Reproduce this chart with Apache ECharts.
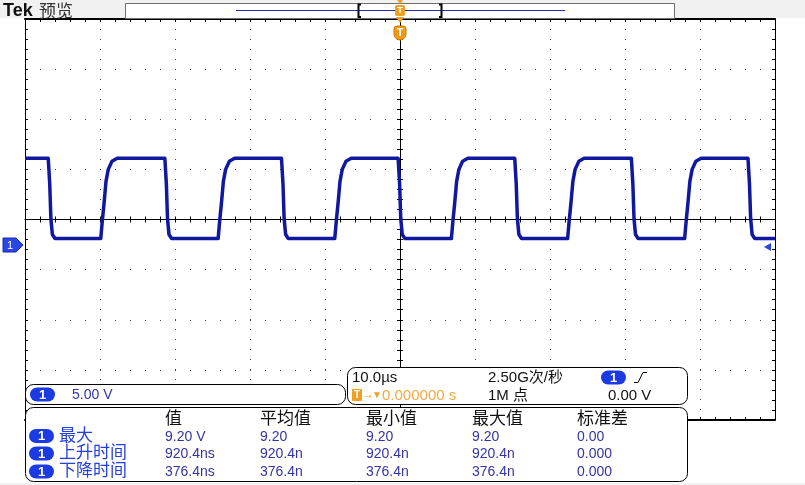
<!DOCTYPE html>
<html>
<head>
<meta charset="utf-8">
<title>Tek 预览</title>
<script src="https://cdn.jsdelivr.net/npm/echarts@6.0.0/dist/echarts.min.js"></script>
<style>
    html, body { margin: 0; padding: 0; background: #fff; }
    #scope { width: 805px; height: 485px; }
</style>
</head>
<body>
<div id="scope"></div>
<script>
// 波形: 时间(µs) / 电压(V)，从截图逐个边沿读出
var traceTime = [
    -50, -46.9, -46.7, -46.55, -46.35, -46.0,
    -39.9, -39.7, -39.45, -39.2, -38.9, -38.4, -37.7,
    -31.35, -31.15, -31.0, -30.8, -30.45,
    -24.25, -24.05, -23.8, -23.55, -23.25, -22.75, -22.05,
    -15.8, -15.6, -15.45, -15.25, -14.9,
    -8.7, -8.5, -8.25, -8.0, -7.7, -7.2, -6.5,
    -0.25, -0.05, 0.1, 0.3, 0.65,
    6.85, 7.05, 7.3, 7.55, 7.85, 8.35, 9.05,
    15.3, 15.5, 15.65, 15.85, 16.2,
    22.35, 22.55, 22.8, 23.05, 23.35, 23.85, 24.55,
    30.85, 31.05, 31.2, 31.4, 31.75,
    37.95, 38.15, 38.4, 38.65, 38.95, 39.45, 40.15,
    46.4, 46.6, 46.75, 46.95, 47.3,
    50
]
var traceVolt = [
    8.6, 8.6, 6.0, 2.6, 1.0, 0.6,
    0.6, 2.3, 4.2, 6.3, 7.5, 8.3, 8.6,
    8.6, 6.0, 2.6, 1.0, 0.6,
    0.6, 2.3, 4.2, 6.3, 7.5, 8.3, 8.6,
    8.6, 6.0, 2.6, 1.0, 0.6,
    0.6, 2.3, 4.2, 6.3, 7.5, 8.3, 8.6,
    8.6, 6.0, 2.6, 1.0, 0.6,
    0.6, 2.3, 4.2, 6.3, 7.5, 8.3, 8.6,
    8.6, 6.0, 2.6, 1.0, 0.6,
    0.6, 2.3, 4.2, 6.3, 7.5, 8.3, 8.6,
    8.6, 6.0, 2.6, 1.0, 0.6,
    0.6, 2.3, 4.2, 6.3, 7.5, 8.3, 8.6,
    8.6, 6.0, 2.6, 1.0, 0.6,
    0.6
]

// 刻度: 10.0µs/格, 5.00 V/格 (零点在中心下方半格)
var timeMin = -50, timeMax = 50, timeDiv = 10
var voltMin = -17.5, voltMax = 22.5, voltDiv = 5

// 测量表
var measCols = ['值', '平均值', '最小值', '最大值', '标准差']
var measNames = ['最大', '上升时间', '下降时间']
var measMax = ['9.20 V', '9.20', '9.20', '9.20', '0.00']
var measRise = ['920.4ns', '920.4n', '920.4n', '920.4n', '0.000']
var measFall = ['376.4ns', '376.4n', '376.4n', '376.4n', '0.000']

// 状态栏文字
var scaleText = '5.00 V'
var timebaseText = '10.0µs'
var rateText = '2.50G次/秒'
var recordText = '1M 点'
var trigPosText = '0.000000 s'
var trigLevelText = '0.00 V'

;(function () {
    var myChart = echarts.init(document.getElementById('scope'))

    var FONT = '"Liberation Sans", "Noto Sans CJK SC", sans-serif'
    var BLUE = '#1c3ae4'
    var ORANGE = '#f0a020'
    var VAL = '#3434a6'

    var data = traceTime.map(function (t, i) { return [t, traceVolt[i]] })

    // 坐标轴 ===================
    function xAx(pos, offset, inside, width, showLine, split) {
        return {
            type: 'value', min: timeMin, max: timeMax, interval: timeDiv,
            position: pos, offset: offset,
            axisLine: { show: showLine, onZero: false, lineStyle: { color: '#000', width: width } },
            axisTick: { show: true, inside: inside, length: 3, lineStyle: { color: '#000' } },
            minorTick: { show: true, splitNumber: 5, length: 3, lineStyle: { color: '#000' } },
            axisLabel: { show: false },
            splitLine: { show: split, lineStyle: { color: '#444', width: 1, type: [1, 9] } }
        }
    }
    function yAx(pos, offset, inside, showLine, split) {
        return {
            type: 'value', min: voltMin, max: voltMax, interval: voltDiv,
            position: pos, offset: offset,
            axisLine: { show: showLine, onZero: false, lineStyle: { color: '#000', width: 1 } },
            axisTick: { show: true, inside: inside, length: 3, lineStyle: { color: '#000' } },
            minorTick: { show: true, splitNumber: 5, length: 3, lineStyle: { color: '#000' } },
            axisLabel: { show: false },
            splitLine: { show: split, lineStyle: { color: '#444', width: 1, type: [1, 14] } }
        }
    }

    // 状态栏元素 ===================
    function txt(x, y, s, size, color, extra) {
        var st = { text: s, fill: color, font: size + 'px ' + FONT, align: 'left', verticalAlign: 'middle' }
        if (extra) { for (var k in extra) st[k] = extra[k] }
        return { type: 'text', x: x, y: y, z: 110, style: st }
    }
    function pill(x, y) {
        return [
            { type: 'rect', z: 105, shape: { x: x, y: y - 7, width: 25, height: 14, r: 7 }, style: { fill: BLUE } },
            txt(x + 12.5, y + 0.5, '1', 13, '#fff', { align: 'center', font: 'bold 13px ' + FONT })
        ]
    }
    function panel(x, y, w, h) {
        return { type: 'rect', z: 100, shape: { x: x, y: y, width: w, height: h, r: 8 },
            style: { fill: '#fff', stroke: '#000', lineWidth: 1 } }
    }

    var g = []
    // 顶栏
    g.push({ type: 'rect', z: 1, shape: { x: 0, y: 0, width: 805, height: 18 }, style: { fill: '#f1f1f1' } })
    g.push({ type: 'rect', z: 0, shape: { x: 0, y: 483, width: 805, height: 2 }, style: { fill: '#f1f1f1' } })
    g.push(txt(3, 11, 'Tek', 18, '#111', { font: 'bold 18px "Liberation Sans"' }))
    g.push(txt(39, 11, '预览', 17, '#333', { font: '17px "Noto Sans CJK SC"' }))
    g.push({ type: 'rect', z: 2, shape: { x: 125.5, y: 3.5, width: 549, height: 15 }, style: { fill: '#fff', stroke: '#707070', lineWidth: 1 } })
    g.push({ type: 'line', z: 3, shape: { x1: 236, y1: 10.5, x2: 565, y2: 10.5 }, style: { stroke: '#2a2ab0', lineWidth: 1 } })
    g.push({ type: 'polyline', z: 3, shape: { points: [[361, 4.5], [358.5, 4.5], [358.5, 17], [361, 17]] }, style: { stroke: '#000', lineWidth: 2, fill: null } })
    g.push({ type: 'polyline', z: 3, shape: { points: [[439, 4.5], [441.5, 4.5], [441.5, 17], [439, 17]] }, style: { stroke: '#000', lineWidth: 2, fill: null } })
    // 触发标记
    g.push({ type: 'polygon', z: 4, shape: { points: [[397, 0], [403, 0], [400, 4]] }, style: { fill: ORANGE } })
    g.push({ type: 'rect', z: 4, shape: { x: 395, y: 5, width: 10, height: 11, r: 2 }, style: { fill: ORANGE } })
    g.push(txt(400, 10.5, 'T', 9, '#fff', { align: 'center', font: 'bold 9px ' + FONT }))
    g.push({ type: 'polygon', z: 4, shape: { points: [[396, 17], [404, 17], [400, 23]] }, style: { fill: ORANGE } })
    g.push({ type: 'rect', z: 4, shape: { x: 394, y: 26, width: 12, height: 14, r: [3, 3, 6, 6] }, style: { fill: '#f29a18', stroke: '#d07800', lineWidth: 1 } })
    g.push(txt(400, 32.5, 'T', 11, '#fff', { align: 'center', font: 'bold 11px ' + FONT }))
    // 通道零点标记
    g.push({ type: 'polygon', z: 4, shape: { points: [[3, 238], [16, 238], [23, 245], [16, 252], [3, 252]] }, style: { fill: '#2845e8', stroke: '#1a2ab0', lineWidth: 1 } })
    g.push(txt(10, 245.5, '1', 11, '#fff', { align: 'center' }))
    g.push({ type: 'polygon', z: 4, shape: { points: [[764, 247], [771, 243], [771, 251]] }, style: { fill: '#2845e8' } })

    // 垂直刻度框
    g.push(panel(25.5, 384.5, 320, 20))
    g = g.concat(pill(30, 394.5))
    g.push(txt(72, 395, scaleText, 14, VAL))

    // 水平 / 触发框
    g.push(panel(347.5, 367.5, 340, 37))
    g.push(txt(352, 378, timebaseText, 15, '#111'))
    g.push(txt(488, 378, rateText, 15, '#111'))
    g = g.concat(pill(601, 377.5))
    g.push({ type: 'polyline', z: 110, shape: { points: [[634, 382.5], [638, 382.5], [643, 372.5], [647, 372.5]] }, style: { stroke: '#000', lineWidth: 1, fill: null } })
    g.push({ type: 'rect', z: 105, shape: { x: 352, y: 389, width: 10, height: 12, r: 1 }, style: { fill: ORANGE } })
    g.push(txt(357, 395.5, 'T', 10, '#fff', { align: 'center', font: 'bold 10px ' + FONT }))
    g.push(txt(362, 395, '→', 12, ORANGE))
    g.push(txt(372, 395, '▼', 10, ORANGE))
    g.push(txt(382, 396, trigPosText, 15, '#f3aa40'))
    g.push(txt(488, 396, recordText, 15, '#111'))
    g.push(txt(608, 396, trigLevelText, 15, '#111'))

    // 测量表
    var colX = [165, 260, 366, 472, 577]
    var rowY = [436, 453.5, 471.5]
    var rows = [measMax, measRise, measFall]
    g.push(panel(25.5, 407.5, 662, 74))
    measCols.forEach(function (c, i) {
        g.push(txt(colX[i], 419.5, c, 17, '#111'))
    })
    measNames.forEach(function (n, r) {
        g = g.concat(pill(29, rowY[r]))
        g.push(txt(59, rowY[r], n, 17, '#2440e0'))
        rows[r].forEach(function (v, i) {
            g.push(txt(colX[i], rowY[r] + 1, v, 14, VAL))
        })
    })

    var option = {
        animation: false,
        backgroundColor: '#fff',
        grid: { left: 25, top: 19, width: 750, height: 401, containLabel: false },
        xAxis: [
            xAx('bottom', 0, true, 2, true, true),
            xAx('top', 0, true, 2, true, false),
            xAx('bottom', -200.5, false, 1, true, false),
            xAx('bottom', -200.5, true, 1, false, false)
        ],
        yAxis: [
            yAx('left', 0, true, true, true),
            yAx('right', 0, true, true, false),
            yAx('left', -375, false, true, false),
            yAx('left', -375, true, false, false)
        ],
        series: [
            {
                name: 'CH1',
                type: 'line',
                xAxisIndex: 0,
                yAxisIndex: 0,
                data: data,
                symbol: 'none',
                silent: true,
                z: 5,
                lineStyle: { color: '#1018a0', width: 3.5, join: 'round' }
            }
        ],
        graphic: { elements: g }
    }

    myChart.setOption(option)
    window.addEventListener('resize', function () {
        myChart.resize()
    })
}())
</script>
</body>
</html>
